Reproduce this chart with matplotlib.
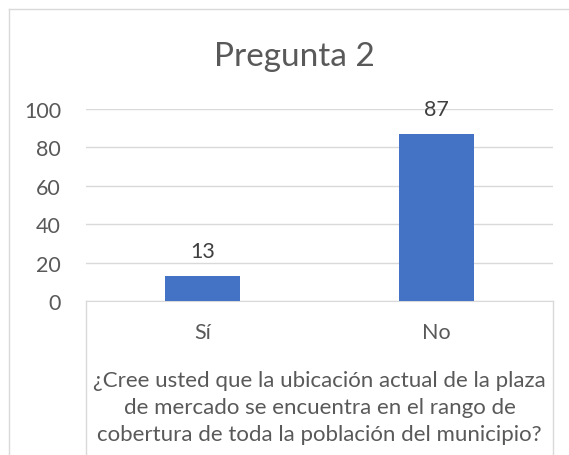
import matplotlib.pyplot as plt
from matplotlib.lines import Line2D

categories = ["Sí", "No"]
values = [13, 87]
yticks = [0, 20, 40, 60, 80, 100]

title = "Pregunta 2"
axis_title = ("¿Cree usted que la ubicación actual de la plaza\n"
              "de mercado se encuentra en el rango de\n"
              "cobertura de toda la población del municipio?")

W, H = 569, 456
text_col = "#595959"
grid_col = "#D9D9D9"
bar_col = "#4472C4"

plt.rcParams["font.family"] = ["Lato", "DejaVu Sans"]

fig = plt.figure(figsize=(W / 100, H / 100), dpi=100)

# plot area in pixel terms: x 86..553, y 110 (top) .. 302 (zero line)
left, right, top, bottom = 86, 553, 110, 302
ax = fig.add_axes([left / W, 1 - bottom / H, (right - left) / W, (bottom - top) / H])

x = list(range(len(categories)))
ax.bar(x, values, width=0.32, color=bar_col, zorder=3)
for xi, v in zip(x, values):
    ax.annotate(str(v), (xi, v), xytext=(0, 18), textcoords="offset points",
                ha="center", va="center", fontsize=15.5, color="#404040", zorder=4)

ax.set_xlim(-0.5, 1.5)
ax.set_ylim(0, 100)
ax.set_yticks(yticks)
ax.set_yticklabels([str(t) for t in yticks])
ax.yaxis.grid(True, color=grid_col, linewidth=1)
ax.set_axisbelow(True)
ax.set_xticks([])
for s in ["top", "right", "left"]:
    ax.spines[s].set_visible(False)
ax.spines["bottom"].set_color(grid_col)
ax.tick_params(axis="y", length=0, pad=18, labelsize=15.5, labelcolor=text_col)
ax.tick_params(axis="x", length=0)

# category labels and the outer label inside the boxed axis area
for xi, c in zip(x, categories):
    fig.text((left + (right - left) * (xi + 0.5) / 2) / W, 1 - 333 / H, c,
             ha="center", va="center", fontsize=15.5, color=text_col)
fig.text((left + right) / 2 / W, 1 - 408 / H, axis_title, ha="center", va="center",
         fontsize=16, color=text_col, linespacing=1.45)

# box sides below the axis
for px in (left, right):
    fig.add_artist(Line2D([px / W, px / W], [1 - bottom / H, 0], color=grid_col, lw=1))

# chart border
fig.add_artist(Line2D([9 / W, 9 / W], [1 - 10 / H, 0], color=grid_col, lw=1))
fig.add_artist(Line2D([9 / W, 1], [1 - 10 / H, 1 - 10 / H], color=grid_col, lw=1))

fig.text(294 / W, 1 - 57 / H, title, ha="center", va="center", fontsize=24, color=text_col)

fig.savefig("out.png", dpi=100)
